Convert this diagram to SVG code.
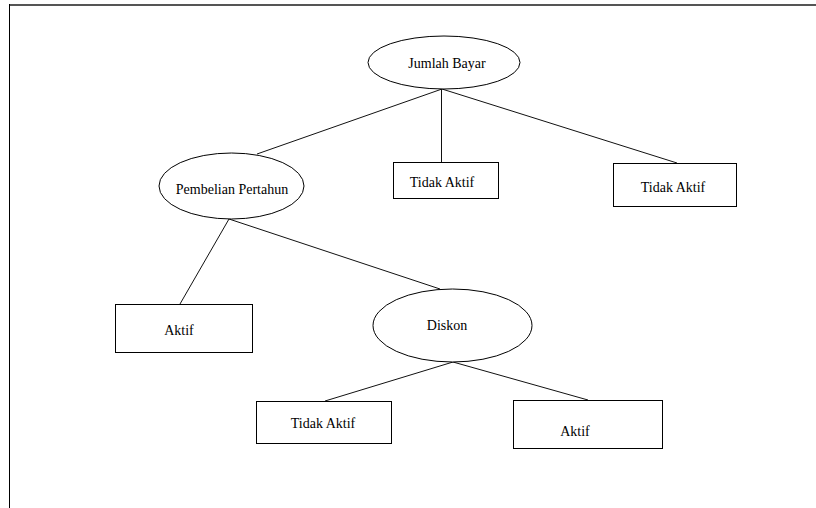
<svg xmlns="http://www.w3.org/2000/svg" width="816" height="508" viewBox="0 0 816 508">
<style>
.n{fill:#fff;stroke:#000;stroke-width:1}
.t{font-family:"Liberation Serif","Times New Roman",serif;font-size:14px;fill:#000;text-anchor:middle}
.c{stroke:#111;stroke-width:1;fill:none}
</style>
<rect width="816" height="508" fill="#fff"/>
<line x1="9" y1="5" x2="816" y2="5" stroke="#555" stroke-width="2"/>
<line x1="9.5" y1="4" x2="9.5" y2="508" stroke="#000" stroke-width="1"/>
<g id="connectors">
<line class="c" x1="442" y1="89" x2="257" y2="154"/>
<line class="c" x1="441.5" y1="89" x2="441.5" y2="162"/>
<line class="c" x1="442" y1="89" x2="677" y2="163"/>
<line class="c" x1="229" y1="219" x2="180" y2="304"/>
<line class="c" x1="229" y1="219" x2="440" y2="289"/>
<line class="c" x1="453" y1="362" x2="325" y2="401"/>
<line class="c" x1="453" y1="362" x2="588" y2="400"/>
</g>
<g id="jumlah-bayar">
<ellipse class="n" cx="444" cy="62.5" rx="76" ry="26.5"/>
<text class="t" x="447" y="68">Jumlah Bayar</text>
</g>
<g id="pembelian-pertahun">
<ellipse class="n" cx="231.5" cy="186" rx="72.5" ry="33"/>
<text class="t" x="232" y="194">Pembelian Pertahun</text>
</g>
<g id="tidak-aktif-1">
<rect class="n" x="393.5" y="162.5" width="105" height="36"/>
<text class="t" x="442" y="187">Tidak Aktif</text>
</g>
<g id="tidak-aktif-2">
<rect class="n" x="613.5" y="163.5" width="123" height="43"/>
<text class="t" x="673" y="192">Tidak Aktif</text>
</g>
<g id="aktif-1">
<rect class="n" x="115.5" y="304.5" width="137" height="48"/>
<text class="t" x="179" y="335">Aktif</text>
</g>
<g id="diskon">
<ellipse class="n" cx="452.5" cy="325.5" rx="79.5" ry="36.5"/>
<text class="t" x="447" y="330">Diskon</text>
</g>
<g id="tidak-aktif-3">
<rect class="n" x="256.5" y="401.5" width="135" height="42"/>
<text class="t" x="323" y="428">Tidak Aktif</text>
</g>
<g id="aktif-2">
<rect class="n" x="513.5" y="400.5" width="149" height="48"/>
<text class="t" x="575" y="436">Aktif</text>
</g>
</svg>
